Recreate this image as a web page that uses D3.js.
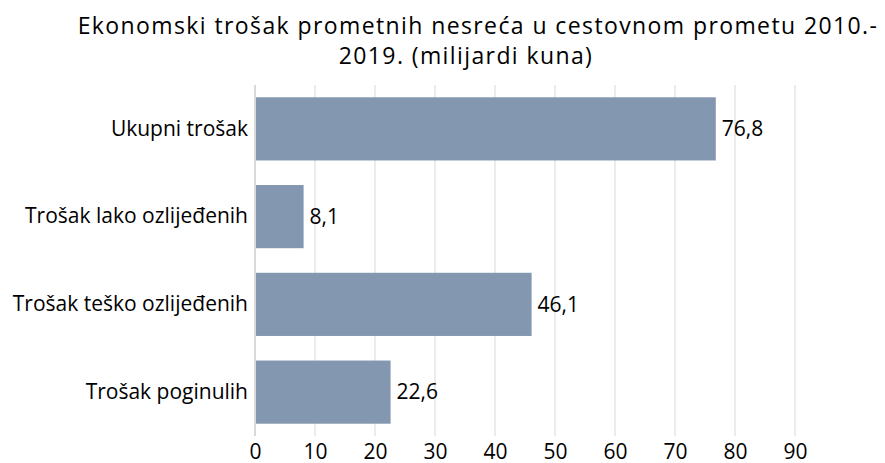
<!DOCTYPE html>
<html>
<head>
<meta charset="utf-8">
<script src="https://cdn.jsdelivr.net/npm/d3@7"></script>
<style>
  body { margin: 0; background: #fff; }
  svg text { font-family: "Open Sans", sans-serif; fill: #000; }
</style>
</head>
<body>
<div id="chart"></div>
<script>
const categories = ['Ukupni trošak', 'Trošak lako ozlijeđenih', 'Trošak teško ozlijeđenih', 'Trošak poginulih'];
const values = [76.8, 8.1, 46.1, 22.6];
const xTicks = [0, 10, 20, 30, 40, 50, 60, 70, 80, 90];
const titleLines = ['Ekonomski trošak prometnih nesreća u cestovnom prometu 2010.-', '2019. (milijardi kuna)'];

const W = 885;
const H = 463;
const margin = {t:85, r:90, b:27, l:255};
const innerWidth = W - margin.l - margin.r;
const innerHeight = H - margin.t - margin.b;

const scaleX = d3.scaleLinear().domain([0, 90]).range([0, innerWidth]);
const scaleY = d3.scaleBand().domain(categories).range([0, innerHeight]).paddingInner(0.28).paddingOuter(0.14);

const fmt = v => String(v).replace('.', ',');

const svg = d3.select('#chart').append('svg')
	.attr('width', W)
	.attr('height', H);

//title, each line centred on its own
svg.append('text')
	.attr('text-anchor', 'middle')
	.style('font-size', '23px')
	.style('letter-spacing', '1.4px')
	.selectAll('tspan')
	.data(titleLines)
	.enter().append('tspan')
	.attr('x', (d, i) => i === 0 ? 478 : 466)
	.attr('y', (d, i) => 34 + i * 30)
	.text(d => d);

const plot = svg.append('g')
	.attr('transform', `translate(${margin.l}, ${margin.t})`);

//gridlines
plot.selectAll('.grid')
	.data(xTicks)
	.enter().append('line')
	.attr('x1', d => scaleX(d))
	.attr('x2', d => scaleX(d))
	.attr('y1', 0)
	.attr('y2', innerHeight)
	.style('stroke', d => d === 0 ? '#d9d9d9' : '#ececec')
	.style('stroke-width', '2px');

//bars
plot.selectAll('.bar')
	.data(values)
	.enter().append('rect')
	.attr('x', scaleX(0) + 1)
	.attr('y', (d, i) => scaleY(categories[i]))
	.attr('width', d => scaleX(d) - scaleX(0) - 1)
	.attr('height', scaleY.bandwidth())
	.style('fill', '#8497b0');

//value labels
plot.selectAll('.val')
	.data(values)
	.enter().append('text')
	.attr('x', d => scaleX(d) + 6)
	.attr('y', (d, i) => scaleY(categories[i]) + scaleY.bandwidth() / 2)
	.attr('dy', '0.35em')
	.style('font-size', '21px')
	.text(d => fmt(d));

//category axis
const axisY = d3.axisLeft(scaleY).tickSize(0).tickPadding(7);
plot.append('g')
	.call(axisY)
	.call(g => g.select('.domain').remove())
	.selectAll('text')
	.style('font-size', '21px');

//value axis
const axisX = d3.axisBottom(scaleX).tickValues(xTicks).tickSize(0).tickPadding(8);
plot.append('g')
	.attr('transform', `translate(0, ${innerHeight})`)
	.call(axisX)
	.call(g => g.select('.domain').remove())
	.selectAll('text')
	.style('font-size', '21px');
</script>
</body>
</html>
